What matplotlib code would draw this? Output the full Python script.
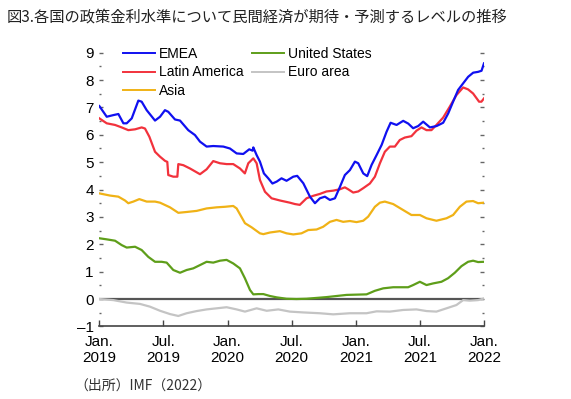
import matplotlib.pyplot as plt
from matplotlib.ticker import MultipleLocator, FixedLocator

plt.rcParams['font.family'] = ['Liberation Sans', 'DejaVu Sans']

# months since Jan. 2019
emea_t = [0, 0.69, 1.31, 1.78, 2.25, 2.56, 3.03, 3.65, 3.96, 4.43, 5.21, 5.68, 6.14, 6.45, 7.08,
          7.55, 8.32, 8.95, 9.42, 10.04, 10.66, 11.6, 12.22, 12.85, 13.47, 14.03, 14.35, 14.41,
          14.72, 15.03, 15.4, 15.81, 16.2, 16.6, 17.05, 17.52, 18.15, 18.52, 19.09, 19.71, 20.18,
          20.64, 21.11, 21.58, 22.05, 22.52, 22.98, 23.45, 23.92, 24.23, 24.7, 25.07, 25.48,
          25.95, 26.42, 26.88, 27.26, 27.82, 28.44, 28.91, 29.37, 29.84, 30.31, 30.94, 31.56,
          32.18, 32.65, 33.11, 33.58, 34.05, 34.52, 34.99, 35.45, 35.77, 36]
emea_v = [7.05, 6.66, 6.72, 6.76, 6.42, 6.42, 6.6, 7.25, 7.21, 6.9, 6.52, 6.66, 6.9, 6.84, 6.56,
          6.52, 6.17, 5.99, 5.75, 5.57, 5.59, 5.57, 5.5, 5.32, 5.3, 5.47, 5.42, 5.54,
          5.26, 5.02, 4.59, 4.41, 4.22, 4.29, 4.41, 4.32, 4.47, 4.5, 4.23, 3.74, 3.5,
          3.68, 3.74, 3.62, 3.68, 4.1, 4.53, 4.71, 5.02, 4.96, 4.59, 4.49, 4.9,
          5.26, 5.63, 6.11, 6.44, 6.36, 6.51, 6.41, 6.24, 6.32, 6.48, 6.27, 6.32,
          6.44, 6.78, 7.21, 7.64, 7.88, 8.12, 8.27, 8.3, 8.34, 8.61]

latam_t = [0, 0.69, 1.47, 2.09, 2.71, 3.34, 3.96, 4.27, 4.68, 5.21, 5.68, 6.14, 6.36, 6.45, 6.92,
           7.3, 7.39, 7.86, 8.48, 9.42, 10.04, 10.66, 11.29, 11.91, 12.53, 13.16, 13.62, 13.94,
           14.41, 14.72, 15.03, 15.5, 16.12, 16.9, 17.83, 18.3, 18.76, 19.39, 20.01, 20.64,
           21.26, 21.89, 22.51, 22.98, 23.29, 23.76, 24.23, 24.7, 25.32, 25.79, 26.26, 26.72,
           27.19, 27.66, 28.12, 28.59, 29.21, 29.68, 30.15, 30.62, 31.08, 31.55, 32.18, 32.8,
           33.42, 34.05, 34.51, 34.98, 35.54, 35.76, 36]
latam_v = [6.6, 6.42, 6.36, 6.27, 6.17, 6.2, 6.27, 6.23, 5.93, 5.38, 5.2, 5.05, 5.01, 4.53, 4.47,
           4.47, 4.93, 4.89, 4.77, 4.56, 4.74, 5.04, 4.96, 4.93, 4.93, 4.77, 4.59, 4.96,
           5.14, 4.96, 4.35, 3.92, 3.68, 3.6, 3.52, 3.47, 3.44, 3.68, 3.77, 3.84,
           3.93, 3.96, 4.01, 4.08, 4.01, 3.89, 3.93, 4.05, 4.22, 4.47, 4.96, 5.38,
           5.57, 5.57, 5.81, 5.9, 5.95, 6.15, 6.27, 6.17, 6.17, 6.36, 6.63, 7.03,
           7.45, 7.73, 7.66, 7.51, 7.21, 7.21, 7.33]

asia_t = [0, 1.0, 1.78, 2.4, 2.71, 3.18, 3.74, 4.43, 5.21, 5.68, 6.61, 7.39, 8.17, 9.11, 10.04,
          10.98, 11.76, 12.53, 12.85, 13.63, 14.25, 15.03, 15.35, 15.97, 16.9, 17.52, 18.15,
          18.92, 19.55, 20.33, 20.95, 21.58, 22.2, 22.82, 23.45, 24.07, 24.7, 25.16, 25.79,
          26.26, 26.72, 27.5, 28.44, 29.21, 30.0, 30.62, 31.55, 32.49, 33.11, 33.74, 34.36,
          34.98, 35.45, 36]
asia_v = [3.86, 3.78, 3.74, 3.6, 3.5, 3.56, 3.65, 3.56, 3.56, 3.52, 3.35, 3.15, 3.18, 3.22, 3.31,
          3.35, 3.37, 3.4, 3.31, 2.77, 2.62, 2.4, 2.37, 2.43, 2.48, 2.4, 2.36,
          2.4, 2.52, 2.54, 2.64, 2.82, 2.89, 2.82, 2.85, 2.81, 2.86, 3.01, 3.37,
          3.52, 3.56, 3.47, 3.25, 3.07, 3.07, 2.95, 2.86, 2.95, 3.07, 3.37, 3.56,
          3.58, 3.5, 3.52]

us_t = [0, 0.69, 1.47, 2.09, 2.56, 3.34, 3.96, 4.58, 5.21, 5.83, 6.3, 6.92, 7.55, 8.17, 8.79,
        9.42, 10.04, 10.66, 11.29, 11.91, 12.53, 13.16, 13.62, 14.1, 14.41, 14.88, 15.35,
        15.97, 16.6, 17.52, 18.45, 19.39, 20.33, 21.26, 22.2, 23.14, 24.07, 25.01, 25.79,
        26.57, 27.5, 28.9, 29.37, 30.0, 30.62, 31.24, 32.02, 32.64, 33.27, 33.89, 34.51,
        34.98, 35.45, 36]
us_v = [2.22, 2.18, 2.13, 1.97, 1.88, 1.91, 1.79, 1.54, 1.36, 1.36, 1.33, 1.06, 0.96, 1.06, 1.12,
        1.24, 1.36, 1.33, 1.4, 1.43, 1.3, 1.12, 0.76, 0.33, 0.17, 0.18, 0.18,
        0.11, 0.06, 0.01, 0.0, 0.01, 0.04, 0.07, 0.11, 0.15, 0.16, 0.17, 0.3,
        0.39, 0.43, 0.43, 0.51, 0.63, 0.51, 0.57, 0.63, 0.76, 0.96, 1.2, 1.36,
        1.4, 1.35, 1.36]

euro_t = [0, 1.31, 2.56, 3.81, 4.74, 5.68, 6.61, 7.39, 8.17, 9.11, 10.04, 10.98, 11.91, 12.85,
          13.63, 14.72, 15.66, 16.75, 17.83, 19.08, 20.64, 21.89, 23.45, 25.01, 25.95, 27.19,
          28.44, 29.68, 30.62, 31.55, 32.49, 33.42, 34.05, 34.67, 35.45, 36]
euro_v = [0.0, -0.04, -0.13, -0.18, -0.28, -0.43, -0.55, -0.62, -0.52, -0.44, -0.38, -0.34, -0.3,
          -0.38, -0.46, -0.34, -0.43, -0.38, -0.46, -0.49, -0.52, -0.56, -0.52, -0.52, -0.45,
          -0.46, -0.4, -0.38, -0.44, -0.46, -0.34, -0.22, -0.04, -0.06, -0.04, 0.02]

xtick_pos = [0, 6, 12, 18, 24, 30, 36]
xtick_labels = ['Jan.\n2019', 'Jul.\n2019', 'Jan.\n2020', 'Jul.\n2020',
                'Jan.\n2021', 'Jul.\n2021', 'Jan.\n2022']

fig = plt.figure(figsize=(5.71, 3.99), dpi=100)
ax = fig.add_axes([0.174, 0.182, 0.6736, 0.7065])

ax.axhline(0, color='#555555', lw=1.6, zorder=1)
ax.plot(euro_t, euro_v, color='#c4c4c4', lw=1.6, label='Euro area')
ax.plot(us_t, us_v, color='#5e9e1a', lw=1.6, label='United States')
ax.plot(asia_t, asia_v, color='#f0b216', lw=1.6, label='Asia')
ax.plot(latam_t, latam_v, color='#f2323c', lw=1.6, label='Latin America')
ax.plot(emea_t, emea_v, color='#1010f0', lw=1.6, label='EMEA')

ax.set_xlim(0, 36)
ax.set_ylim(-1, 9.3)

for s in ['top', 'left', 'right']:
    ax.spines[s].set_visible(False)
ax.spines['bottom'].set_color('#444444')
ax.spines['bottom'].set_linewidth(1.2)

ax.set_xticks(xtick_pos)
ax.set_xticklabels(xtick_labels, fontsize=11, linespacing=1.25)
ax.yaxis.set_major_locator(FixedLocator(range(-1, 10)))
ax.yaxis.set_minor_locator(MultipleLocator(0.5))
ax.tick_params(axis='x', direction='in', length=4, width=1, color='#444444', pad=6)
ax.tick_params(axis='y', which='major', direction='in', length=3, width=1, color='#666666',
               right=True, labelsize=11, pad=4)
ax.tick_params(axis='y', which='minor', direction='in', length=1.2, width=1, color='#666666',
               right=True)
ax.set_yticklabels(['\u20131'] + [str(i) for i in range(0, 10)])

h, l = ax.get_legend_handles_labels()
order = [4, 3, 2, 1, 0]
leg = ax.legend([h[i] for i in order], [l[i] for i in order], ncol=2, frameon=False,
                loc='upper left', bbox_to_anchor=(0.061, 0.99), fontsize=10,
                handlelength=2.3, handletextpad=0.3, columnspacing=0.6,
                labelspacing=0.3, borderpad=0, borderaxespad=0)
for line in leg.get_lines():
    line.set_linewidth(1.4)

fig.text(0.012, 0.958, '図3.各国の政策金利水準について民間経済が期待・予測するレベルの推移',
         family=['Noto Sans CJK JP', 'DejaVu Sans'], fontsize=11, va='center', color='#222222')
fig.text(0.13, 0.033, '（出所）IMF（2022）',
         family=['Noto Sans CJK JP', 'DejaVu Sans'], fontsize=10, va='center', color='#333333')

fig.savefig('out.png', dpi=100)
